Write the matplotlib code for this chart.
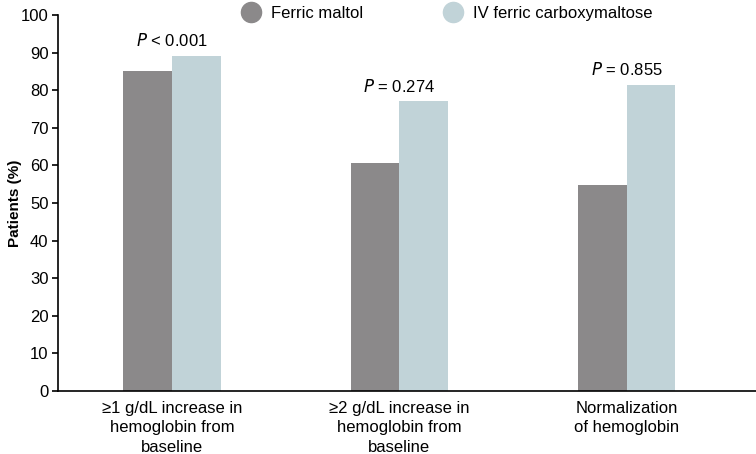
import numpy as np
import matplotlib.pyplot as plt
from matplotlib.lines import Line2D

plt.rcParams['font.family'] = ['Liberation Sans', 'DejaVu Sans']

# data
categories = ["\u22651 g/dL increase in\nhemoglobin from\nbaseline",
              "\u22652 g/dL increase in\nhemoglobin from\nbaseline",
              "Normalization\nof hemoglobin"]
ferric_maltol = [85.2, 60.6, 54.8]
iv_fcm = [89.2, 77.0, 81.4]
p_labels = ["< 0.001", "= 0.274", "= 0.855"]

grey = "#8b898a"
blue = "#c1d3d8"

fig = plt.figure(figsize=(7.56, 4.54), dpi=100)
ax = fig.add_axes([0.077, 0.139, 0.923, 0.828])

x = np.arange(len(categories))
w = 0.215
ax.bar(x - w / 2, ferric_maltol, w, color=grey)
ax.bar(x + w / 2, iv_fcm, w, color=blue)

# p value labels above each pair
for xi, top, p in zip(x, np.maximum(ferric_maltol, iv_fcm), p_labels):
    ax.text(xi, top + 1.8, r"$\it{P}$ " + p, ha='center', va='bottom', fontsize=12)

ax.set_xlim(-0.502, 2.57)
ax.set_ylim(0, 100)
ax.set_yticks(np.arange(0, 101, 10))
ax.set_xticks(x)
ax.set_xticklabels(categories, fontsize=12, linespacing=1.4)
ax.tick_params(axis='x', length=0, pad=7)
ax.tick_params(axis='y', labelsize=12, length=4, width=1.2, pad=3)
ax.set_ylabel("Patients (%)", fontsize=11, fontweight='bold')
ax.yaxis.set_label_coords(-0.052, 0.5)
ax.spines['top'].set_visible(False)
ax.spines['right'].set_visible(False)
ax.spines['left'].set_linewidth(1.2)
ax.spines['bottom'].set_linewidth(1.2)

handles = [Line2D([], [], marker='o', ls='', markersize=14.5, color=grey),
           Line2D([], [], marker='o', ls='', markersize=14.5, color=blue)]
fig.legend(handles, ["Ferric maltol", "IV ferric carboxymaltose"], ncol=2,
           loc='center', bbox_to_anchor=(0.586, 0.97), frameon=False, fontsize=12,
           handletextpad=0.2, columnspacing=4.4)

fig.savefig("out.png", dpi=100)
